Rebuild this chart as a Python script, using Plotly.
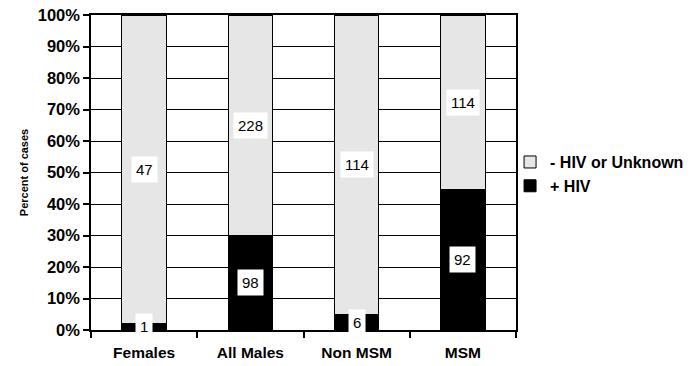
import plotly.graph_objects as go

categories = ["Females", "All Males", "Non MSM", "MSM"]
hiv_pos = [1, 98, 6, 92]
hiv_neg = [47, 228, 114, 114]
y_ticks = [0, 10, 20, 30, 40, 50, 60, 70, 80, 90, 100]
y_tick_labels = [f"{t}%" for t in y_ticks]

FONT = "Liberation Sans, Arial, sans-serif"

fig = go.Figure()
fig.add_trace(go.Bar(
    x=categories, y=hiv_pos, name="+ HIV",
    marker=dict(color="#000000", line=dict(color="#000000", width=1)),
    width=0.42,
))
fig.add_trace(go.Bar(
    x=categories, y=hiv_neg, name="- HIV or Unknown",
    marker=dict(color="#e6e6e6", line=dict(color="#000000", width=1)),
    width=0.42,
))

# value labels at segment centres (percent scale)
for c, p, n in zip(categories, hiv_pos, hiv_neg):
    tot = p + n
    pp = 100.0 * p / tot
    pn = 100.0 * n / tot
    for val, yc in ((p, pp / 2.0), (n, pp + pn / 2.0)):
        fig.add_annotation(
            x=c, y=yc, text=str(val), showarrow=False,
            bgcolor="#ffffff", borderpad=4,
            font=dict(family=FONT, size=15, color="#000000"),
        )

fig.update_layout(
    barmode="stack", barnorm="percent",
    width=695, height=366,
    margin=dict(l=91, r=179, t=15, b=36, autoexpand=False),
    paper_bgcolor="#ffffff", plot_bgcolor="#ffffff",
    font=dict(family=FONT, color="#000000"),
    showlegend=True,
    legend=dict(
        x=0.986, y=0.495, xanchor="left", yanchor="middle",
        traceorder="reversed",
        font=dict(family=FONT, size=16, color="#000000", weight="bold"),
        itemwidth=30, tracegroupgap=0, bgcolor="rgba(0,0,0,0)",
    ),
)
fig.update_xaxes(
    type="category", tickson="boundaries", ticks="outside", ticklen=6,
    tickcolor="#000000", tickwidth=1.5, automargin=False,
    showline=True, linecolor="#000000", linewidth=1.5, mirror=True,
    showgrid=False,
    tickfont=dict(family=FONT, size=15.5, color="#000000", weight="bold"),
    ticklabelstandoff=8,
)
fig.update_yaxes(
    range=[0, 100], tickmode="array", tickvals=y_ticks, ticktext=y_tick_labels,
    ticks="outside", ticklen=6, tickcolor="#000000", tickwidth=1.5, automargin=False,
    showline=True, linecolor="#000000", linewidth=1.5, mirror=True,
    showgrid=True, gridcolor="#000000", gridwidth=1.3, zeroline=False,
    tickfont=dict(family=FONT, size=16.5, color="#000000", weight="bold"),
    title=dict(text="Percent of cases", standoff=7,
               font=dict(family=FONT, size=11, color="#000000", weight="bold")),
)

fig.write_html("out.html", config={"displayModeBar": False},
               post_script="document.body.style.margin='0';")
